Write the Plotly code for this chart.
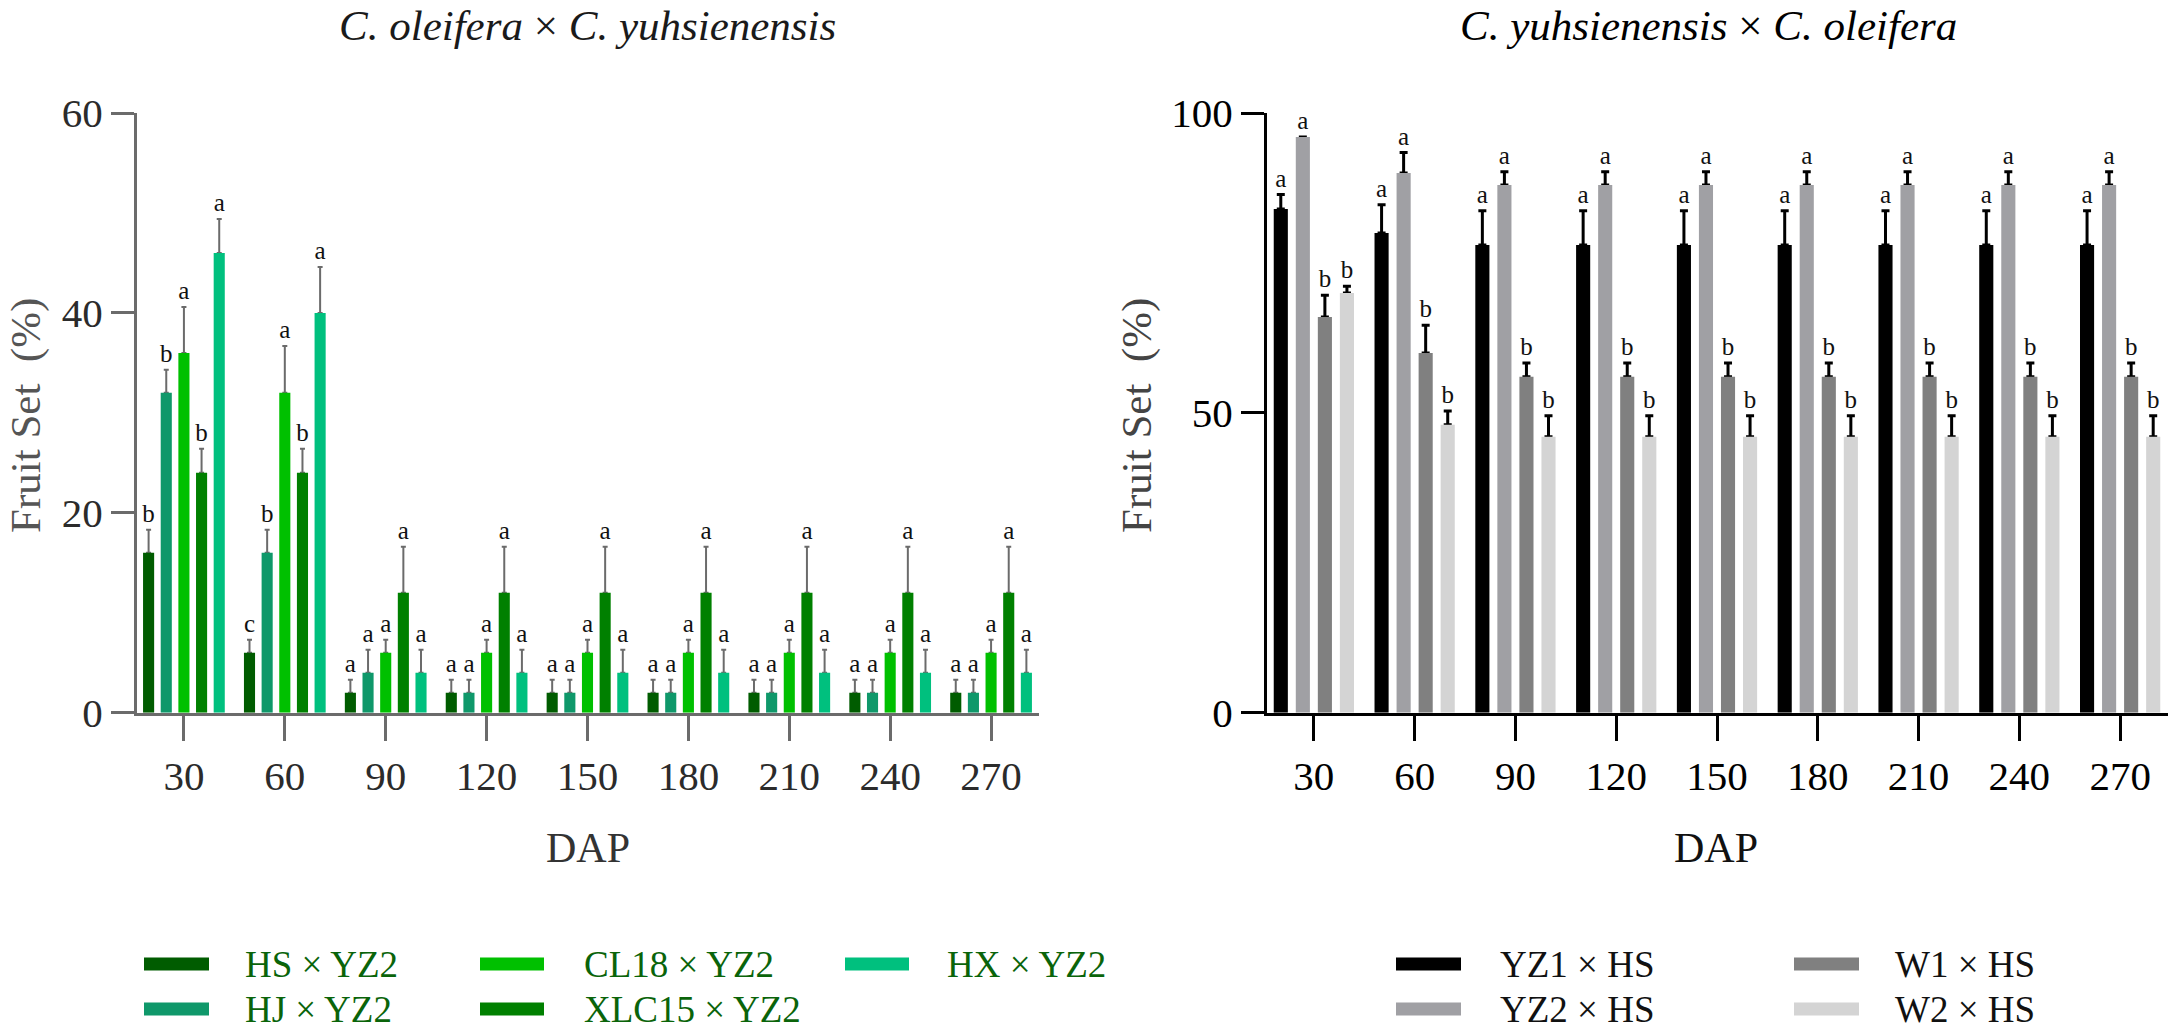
import plotly.graph_objects as go

W, H = 2175, 1031
FONT = "Liberation Serif"

# ---------------- data ----------------
DAP = ["30", "60", "90", "120", "150", "180", "210", "240", "270"]

left_names = ["HS × YZ2", "HJ × YZ2", "CL18 × YZ2", "XLC15 × YZ2", "HX × YZ2"]
left_colors = ["#005c00", "#0f986a", "#00c000", "#008000", "#00c07e"]

hs = [16, 6, 2, 2, 2, 2, 2, 2, 2]
hs_err = [2.3, 1.3, 1.3, 1.3, 1.3, 1.3, 1.3, 1.3, 1.3]
hs_sig = ["b", "c", "a", "a", "a", "a", "a", "a", "a"]

hj = [32, 16, 4, 2, 2, 2, 2, 2, 2]
hj_err = [2.3, 2.3, 2.3, 1.3, 1.3, 1.3, 1.3, 1.3, 1.3]
hj_sig = ["b", "b", "a", "a", "a", "a", "a", "a", "a"]

cl18 = [36, 32, 6, 6, 6, 6, 6, 6, 6]
cl18_err = [4.6, 4.7, 1.3, 1.3, 1.3, 1.3, 1.3, 1.3, 1.3]
cl18_sig = ["a", "a", "a", "a", "a", "a", "a", "a", "a"]

xlc15 = [24, 24, 12, 12, 12, 12, 12, 12, 12]
xlc15_err = [2.4, 2.4, 4.6, 4.6, 4.6, 4.6, 4.6, 4.6, 4.6]
xlc15_sig = ["b", "b", "a", "a", "a", "a", "a", "a", "a"]

hx = [46, 40, 4, 4, 4, 4, 4, 4, 4]
hx_err = [3.4, 4.6, 2.3, 2.3, 2.3, 2.3, 2.3, 2.3, 2.3]
hx_sig = ["a", "a", "a", "a", "a", "a", "a", "a", "a"]

right_names = ["YZ1 × HS", "YZ2 × HS", "W1 × HS", "W2 × HS"]
right_colors = ["#000000", "#a0a0a4", "#808080", "#d4d4d4"]

yz1 = [84, 80, 78, 78, 78, 78, 78, 78, 78]
yz1_err = [2.4, 4.7, 5.7, 5.7, 5.7, 5.7, 5.7, 5.7, 5.7]
yz1_sig = ["a"] * 9

yz2 = [96, 90, 88, 88, 88, 88, 88, 88, 88]
yz2_err = [0, 3.4, 2.2, 2.2, 2.2, 2.2, 2.2, 2.2, 2.2]
yz2_sig = ["a"] * 9

w1 = [66, 60, 56, 56, 56, 56, 56, 56, 56]
w1_err = [3.6, 4.6, 2.3, 2.3, 2.3, 2.3, 2.3, 2.3, 2.3]
w1_sig = ["b"] * 9

w2 = [70, 48, 46, 46, 46, 46, 46, 46, 46]
w2_err = [1.1, 2.3, 3.5, 3.5, 3.5, 3.5, 3.5, 3.5, 3.5]
w2_sig = ["b"] * 9

left_vals = [hs, hj, cl18, xlc15, hx]
left_errs = [hs_err, hj_err, cl18_err, xlc15_err, hx_err]
left_sigs = [hs_sig, hj_sig, cl18_sig, xlc15_sig, hx_sig]
right_vals = [yz1, yz2, w1, w2]
right_errs = [yz1_err, yz2_err, w1_err, w2_err]
right_sigs = [yz1_sig, yz2_sig, w1_sig, w2_sig]

# ---------------- helpers (layout only) ----------------
def px(x):
    return x / W

def py(y):
    return 1 - y / H

fig = go.Figure()

panels = [
    dict(names=left_names, colors=left_colors, vals=left_vals, errs=left_errs, sigs=left_sigs,
         xa="x", ya="y", grp="L", width=0.11, ecol="#6b6b6b", eth=2, ew=2.5),
    dict(names=right_names, colors=right_colors, vals=right_vals, errs=right_errs, sigs=right_sigs,
         xa="x2", ya="y2", grp="R", width=0.14, ecol="#000000", eth=3, ew=4),
]

# error bars + significance letters (transparent bars reaching the error top), drawn first
for p in panels:
    for name, vals, errs, sigs in zip(p["names"], p["vals"], p["errs"], p["sigs"]):
        top = [v + e for v, e in zip(vals, errs)]
        fig.add_trace(go.Bar(
            x=DAP, y=top, xaxis=p["xa"], yaxis=p["ya"],
            offsetgroup=name, alignmentgroup=p["grp"], width=p["width"],
            marker=dict(color="rgba(0,0,0,0)", line=dict(width=0)),
            text=sigs, textposition="outside", textangle=0, constraintext="none",
            outsidetextfont=dict(family=FONT, size=25, color="#111111"),
            cliponaxis=False, showlegend=False, hoverinfo="skip",
            error_y=dict(type="data", symmetric=False,
                         array=[0 if e else None for e in errs],
                         arrayminus=[e if e else None for e in errs],
                         color=p["ecol"], thickness=p["eth"], width=p["ew"]),
        ))

# visible bars
for p in panels:
    for name, col, vals in zip(p["names"], p["colors"], p["vals"]):
        fig.add_trace(go.Bar(
            x=DAP, y=vals, name=name, xaxis=p["xa"], yaxis=p["ya"],
            offsetgroup=name, alignmentgroup=p["grp"], width=p["width"],
            marker=dict(color=col, line=dict(width=0)),
            showlegend=False,
        ))

ydom = [py(712.7), py(113)]

def xaxis_style(dom, col, tickcol):
    return dict(domain=dom, type="category", range=[-0.465, 8.475], automargin=False,
                showline=True, linecolor=col, linewidth=3,
                ticks="outside", ticklen=25, tickwidth=3, tickcolor=col,
                showgrid=False, zeroline=False,
                tickfont=dict(family=FONT, size=41, color=tickcol))

def yaxis_style(rng, vals, col, tickcol, anchor):
    return dict(domain=ydom, range=rng, tickvals=vals, anchor=anchor, automargin=False,
                showline=True, linecolor=col, linewidth=3,
                ticks="outside", ticklen=23, tickwidth=3, tickcolor=col,
                showgrid=False, zeroline=False,
                tickfont=dict(family=FONT, size=41, color=tickcol))

fig.update_layout(
    width=W, height=H,
    margin=dict(l=0, r=0, t=0, b=0, pad=0, autoexpand=False),
    paper_bgcolor="white", plot_bgcolor="white",
    barmode="group", bargap=0.125, bargroupgap=0,
    showlegend=False,
    xaxis=dict(**xaxis_style([px(137), px(1039)], "#6b6b6b", "#2b2b2b"), anchor="y"),
    yaxis=yaxis_style([0, 60], [0, 20, 40, 60], "#6b6b6b", "#2b2b2b", "x"),
    xaxis2=dict(**xaxis_style([px(1267), px(2168)], "#000000", "#000000"), anchor="y2"),
    yaxis2=yaxis_style([0, 100], [0, 50, 100], "#000000", "#000000", "x2"),
)

ann = []
# titles
ann.append(dict(text="<i>C. oleifera</i> × <i>C. yuhsienensis</i>", x=px(587), y=py(25),
                font=dict(family=FONT, size=43, color="#1a1a1a")))
ann.append(dict(text="<i>C. yuhsienensis</i> × <i>C. oleifera</i>", x=px(1708), y=py(25),
                font=dict(family=FONT, size=43, color="#000000")))
# axis titles
ann.append(dict(text="DAP", x=px(588), y=py(848), font=dict(family=FONT, size=42, color="#333333")))
ann.append(dict(text="DAP", x=px(1716), y=py(848), font=dict(family=FONT, size=42, color="#111111")))
ann.append(dict(text="Fruit Set\u00a0\u00a0(%)", x=px(26), y=py(416), textangle=-90,
                font=dict(family=FONT, size=43, color="#555555")))
ann.append(dict(text="Fruit Set\u00a0\u00a0(%)", x=px(1137), y=py(416), textangle=-90,
                font=dict(family=FONT, size=43, color="#444444")))
for a in ann:
    a.update(xref="paper", yref="paper", showarrow=False, xanchor="center", yanchor="middle")

# custom legends
shapes = []
rows = [964, 1009]
left_cols = [(144, 209, 243), (480, 544, 582), (845, 909, 945)]
right_cols = [(1396, 1461, 1498), (1794, 1859, 1893)]

def add_legend(names, colors, cols, txtcol):
    for i, (name, col) in enumerate(zip(names, colors)):
        c, r = divmod(i, 2)
        x0, x1, xt = cols[c]
        yc = rows[r]
        shapes.append(dict(type="rect", xref="paper", yref="paper",
                           x0=px(x0), x1=px(x1), y0=py(yc + 6.5), y1=py(yc - 6.5),
                           fillcolor=col, line=dict(width=0)))
        ann.append(dict(text=name, x=px(xt), y=py(yc), xref="paper", yref="paper",
                        xanchor="left", yanchor="middle", showarrow=False,
                        font=dict(family=FONT, size=37, color=txtcol)))

add_legend(left_names, left_colors, left_cols, "#0a640a")
add_legend(right_names, right_colors, right_cols, "#111111")

fig.update_layout(annotations=ann, shapes=shapes)

fig.write_html(
    "out.html",
    config={"displayModeBar": False, "staticPlot": True},
    post_script="document.body.style.margin='0';document.body.style.overflow='hidden';",
)
